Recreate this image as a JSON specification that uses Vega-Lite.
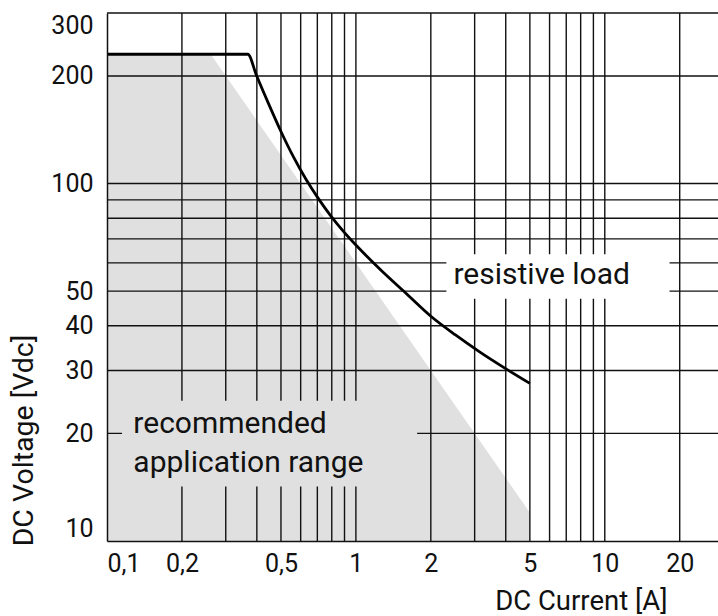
{
  "$schema": "https://vega.github.io/schema/vega-lite/v6.json",
  "width": 611,
  "height": 528,
  "autosize": {"type": "none"},
  "padding": {"left": 107, "top": 13, "right": 0, "bottom": 75},
  "background": "white",
  "config": {"view": {"stroke": null}, "font": "Roboto"},
  "datasets": {
    "region": [
      {"I": 0.1, "V": 230},
      {"I": 0.261, "V": 230},
      {"I": 5, "V": 12}
    ],
    "gridx": [
      {"I": 0.2}, {"I": 0.3}, {"I": 0.4}, {"I": 0.5}, {"I": 0.6}, {"I": 0.7}, {"I": 0.8}, {"I": 0.9}, {"I": 1},
      {"I": 2}, {"I": 3}, {"I": 4}, {"I": 5}, {"I": 6}, {"I": 7}, {"I": 8}, {"I": 9}, {"I": 10}, {"I": 20}
    ],
    "gridy": [
      {"V": 20}, {"V": 30}, {"V": 40}, {"V": 50}, {"V": 60}, {"V": 70}, {"V": 80}, {"V": 90}, {"V": 100}, {"V": 200}, {"V": 300}
    ],
    "maskgray": [{"I1": 0.1149, "I2": 1.762, "V1": 14.2, "V2": 24.7}],
    "maskwhite": [{"I1": 2.31, "I2": 18.2, "V1": 47.6, "V2": 63.4}],
    "curve": [
      {"I": 0.1, "V": 230},
      {"I": 0.368, "V": 230},
      {"I": 0.398, "V": 201.2},
      {"I": 0.447, "V": 166.5},
      {"I": 0.501, "V": 139.4},
      {"I": 0.562, "V": 118.5},
      {"I": 0.631, "V": 102.6},
      {"I": 0.708, "V": 90.6},
      {"I": 0.794, "V": 81.1},
      {"I": 0.891, "V": 73.5},
      {"I": 1.0, "V": 67.3},
      {"I": 1.259, "V": 57.3},
      {"I": 1.585, "V": 49.4},
      {"I": 1.995, "V": 42.6},
      {"I": 2.512, "V": 37.7},
      {"I": 3.162, "V": 33.7},
      {"I": 3.981, "V": 30.4},
      {"I": 5.0, "V": 27.6}
    ],
    "notes": [
      {"I": 2.466, "V": 52.2, "text": "resistive load"},
      {"I": 0.1276, "V": 20.0, "text": "recommended"},
      {"I": 0.1276, "V": 15.6, "text": "application range"}
    ]
  },
  "layer": [
    {
      "data": {"name": "region"},
      "mark": {"type": "area", "color": "#e0e0e0", "interpolate": "linear"},
      "encoding": {
        "x": {
          "field": "I", "type": "quantitative",
          "scale": {"type": "log", "domain": [0.1, 28.5], "nice": false, "zero": false},
          "axis": {
            "values": [0.1, 0.2, 0.5, 1, 2, 5, 10, 20],
            "labelExpr": "replace(format(datum.value, '~g'), '.', ',')",
            "grid": false, "ticks": false, "tickSize": 0,
            "domain": true, "domainColor": "#111111", "domainWidth": 1.5,
            "labelFont": "Roboto", "labelFontSize": 25, "labelColor": "#111111",
            "labelPadding": 10, "labelFlush": true,
            "title": "DC Current [A]", "titleFont": "Roboto", "titleFontSize": 27.5,
            "titleFontWeight": "normal", "titleColor": "#111111",
            "titleX": 560, "titleY": 68, "titleAlign": "right", "titleBaseline": "alphabetic",
            "zindex": 1
          }
        },
        "y": {
          "field": "V", "type": "quantitative",
          "scale": {"type": "log", "domain": [10, 300], "nice": false, "zero": false},
          "axis": {
            "values": [10, 20, 30, 40, 50, 100, 200, 300],
            "format": "d",
            "grid": false, "ticks": false, "tickSize": 0,
            "domain": true, "domainColor": "#111111", "domainWidth": 1.5,
            "labelFont": "Roboto", "labelFontSize": 25, "labelColor": "#111111",
            "labelPadding": 14, "labelFlush": true,
            "title": "DC Voltage [Vdc]", "titleFont": "Roboto", "titleFontSize": 28.5,
            "titleFontWeight": "normal", "titleColor": "#111111",
            "titleAngle": -90, "titleX": -75, "titleY": 427, "titleAlign": "center", "titleBaseline": "alphabetic",
            "zindex": 1
          }
        },
        "y2": {"datum": 10}
      }
    },
    {
      "data": {"name": "gridx"},
      "mark": {"type": "rule", "color": "#111111", "strokeWidth": 1.4},
      "encoding": {
        "x": {"field": "I", "type": "quantitative", "scale": {"type": "log", "domain": [0.1, 28.5], "nice": false, "zero": false}}
      }
    },
    {
      "data": {"name": "gridy"},
      "mark": {"type": "rule", "color": "#111111", "strokeWidth": 1.4},
      "encoding": {
        "y": {"field": "V", "type": "quantitative", "scale": {"type": "log", "domain": [10, 300], "nice": false, "zero": false}}
      }
    },
    {
      "data": {"name": "maskgray"},
      "mark": {"type": "rect", "color": "#e0e0e0"},
      "encoding": {
        "x": {"field": "I1", "type": "quantitative"},
        "x2": {"field": "I2"},
        "y": {"field": "V1", "type": "quantitative"},
        "y2": {"field": "V2"}
      }
    },
    {
      "data": {"name": "maskwhite"},
      "mark": {"type": "rect", "color": "#ffffff"},
      "encoding": {
        "x": {"field": "I1", "type": "quantitative"},
        "x2": {"field": "I2"},
        "y": {"field": "V1", "type": "quantitative"},
        "y2": {"field": "V2"}
      }
    },
    {
      "data": {"name": "curve"},
      "mark": {"type": "line", "color": "#000000", "strokeWidth": 2.8, "interpolate": "monotone"},
      "encoding": {
        "x": {"field": "I", "type": "quantitative"},
        "y": {"field": "V", "type": "quantitative"}
      }
    },
    {
      "data": {"name": "notes"},
      "mark": {"type": "text", "align": "left", "baseline": "alphabetic", "font": "Roboto", "fontSize": 30, "color": "#111111"},
      "encoding": {
        "x": {"field": "I", "type": "quantitative"},
        "y": {"field": "V", "type": "quantitative"},
        "text": {"field": "text"}
      }
    }
  ]
}
